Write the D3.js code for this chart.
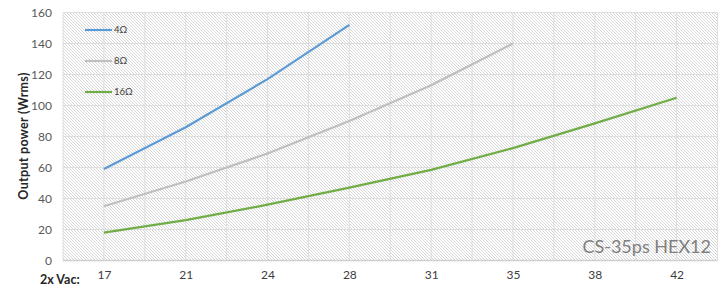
<!DOCTYPE html>
<html>
<head>
<meta charset="utf-8">
<script src="https://cdn.jsdelivr.net/npm/d3@7"></script>
<style>
	body { margin: 0; background: #fff; }
	svg { display: block; font-family: Lato, "Open Sans", sans-serif; }
</style>
</head>
<body>
<div class="svg-container"></div>
<script>
var categories = [ "17", "21", "24", "28", "31", "35", "38", "42" ];
var series_names = [ "4Ω", "8Ω", "16Ω" ];
var values_4 = [ 59, 86, 117, 152 ];
var values_8 = [ 35, 51, 69, 90, 113, 140 ];
var values_16 = [ 18, 26, 36, 47, 58.5, 72.5, 88.5, 105 ];
var y_ticks = [ 0, 20, 40, 60, 80, 100, 120, 140, 160 ];

(function () {

	"use strict";

	var colors = [ "#5b9bd5", "#bfbfbf", "#70ad47" ];
	var series = [ values_4, values_8, values_16 ];

	var width = 722, height = 290;
	var margin = { "top": 12.5, "right": 4.5, "bottom": 29.5, "left": 63 };
	var inner_w = width - margin.left - margin.right,
		inner_h = height - margin.top - margin.bottom;

	var svg = d3.select(".svg-container").append("svg")
		.attr("width", width)
		.attr("height", height)
		.attr("shape-rendering", "auto");

	// hatch background: pixel-aligned 3x3 tile, lines running top-left to bottom-right
	var pattern = svg.append("defs").append("pattern")
		.attr("id", "hatch")
		.attr("patternUnits", "userSpaceOnUse")
		.attr("width", 3)
		.attr("height", 3);
	pattern.selectAll("rect")
		.data([ 0, 1, 2 ])
		.enter().append("rect")
		.attr("x", function (d) { return d; })
		.attr("y", function (d) { return d; })
		.attr("width", 1).attr("height", 1)
		.attr("shape-rendering", "crispEdges")
		.attr("fill", "#d6d6d6");

	svg.append("rect")
		.attr("x", Math.round(margin.left))
		.attr("y", Math.round(margin.top))
		.attr("width", Math.round(inner_w))
		.attr("height", Math.round(inner_h))
		.attr("fill", "url(#hatch)");

	var g = svg.append("g")
		.attr("transform", "translate(" + margin.left + "," + margin.top + ")");

	var x = d3.scalePoint().domain(categories).range([ 0, inner_w ]).padding(0.5);
	var step = x.step();
	var y = d3.scaleLinear().domain([ 0, 160 ]).range([ inner_h, 0 ]);

	// vertical grid at category centres and boundaries
	var vlines = [];
	for ( var i = 0; i <= categories.length * 2; i++ ) { vlines.push( i * step / 2 ); }
	g.selectAll(".vgrid")
		.data(vlines)
		.enter().append("line")
		.attr("class", "vgrid")
		.attr("x1", function (d) { return d; })
		.attr("x2", function (d) { return d; })
		.attr("y1", 0).attr("y2", inner_h)
		.attr("stroke", "#dedede").attr("stroke-width", 1);

	g.selectAll(".hgrid")
		.data(y_ticks)
		.enter().append("line")
		.attr("class", "hgrid")
		.attr("x1", 0).attr("x2", inner_w)
		.attr("y1", function (d) { return y(d); })
		.attr("y2", function (d) { return y(d); })
		.attr("stroke", function (d) { return d === 0 ? "#cfcfcf" : "#dedede"; })
		.attr("stroke-width", function (d) { return d === 0 ? 1.3 : 1; });

	// y axis labels
	var yAxis = d3.axisLeft(y).tickValues(y_ticks).tickSize(0).tickPadding(11);
	var ya = g.append("g").call(yAxis);
	ya.select(".domain").remove();
	ya.selectAll("text").attr("fill", "#595959").style("font-size", "12px").style("font-family", "Lato, sans-serif");

	var xAxis = d3.axisBottom(x).tickSize(0).tickPadding(10);
	var xa = g.append("g").attr("transform", "translate(0," + inner_h + ")").call(xAxis);
	xa.select(".domain").remove();
	xa.selectAll("text").attr("fill", "#404040").style("font-size", "12px").style("font-family", "Lato, sans-serif");

	// lines
	var line = d3.line()
		.x(function (d, i) { return x(categories[i]); })
		.y(function (d) { return y(d); });

	g.selectAll(".series")
		.data(series)
		.enter().append("path")
		.attr("class", "series")
		.attr("d", line)
		.attr("fill", "none")
		.attr("stroke", function (d, i) { return colors[i]; })
		.attr("stroke-width", 2.2);

	// legend
	var legend = svg.selectAll(".legend")
		.data(series_names)
		.enter().append("g")
		.attr("class", "legend")
		.attr("transform", function (d, i) { return "translate(85," + ( 30 + i * 31 ) + ")"; });
	legend.append("line")
		.attr("x1", 0).attr("x2", 27)
		.attr("stroke", function (d, i) { return colors[i]; })
		.attr("stroke-width", 2.2);
	legend.append("text")
		.attr("x", 29).attr("dy", "0.35em")
		.attr("fill", "#404040")
		.style("font-size", "9.5px")
		.text(function (d) { return d; });

	// axis titles
	svg.append("text")
		.attr("transform", "translate(28,136) rotate(-90)")
		.attr("text-anchor", "middle")
		.attr("fill", "#262626")
		.style("font-size", "12.5px")
		.style("font-weight", "bold")
		.style("letter-spacing", "0.3px")
		.text("Output  power  (Wrms)");

	svg.append("text")
		.attr("x", 40).attr("y", 284)
		.attr("fill", "#262626")
		.style("font-size", "12.5px")
		.style("font-weight", "bold")
		.text("2x Vac:");

	svg.append("text")
		.attr("x", 711).attr("y", 253)
		.attr("text-anchor", "end")
		.attr("fill", "#7f7f7f")
		.style("font-size", "18px")
		.text("CS-35ps HEX12");

})();
</script>
</body>
</html>
